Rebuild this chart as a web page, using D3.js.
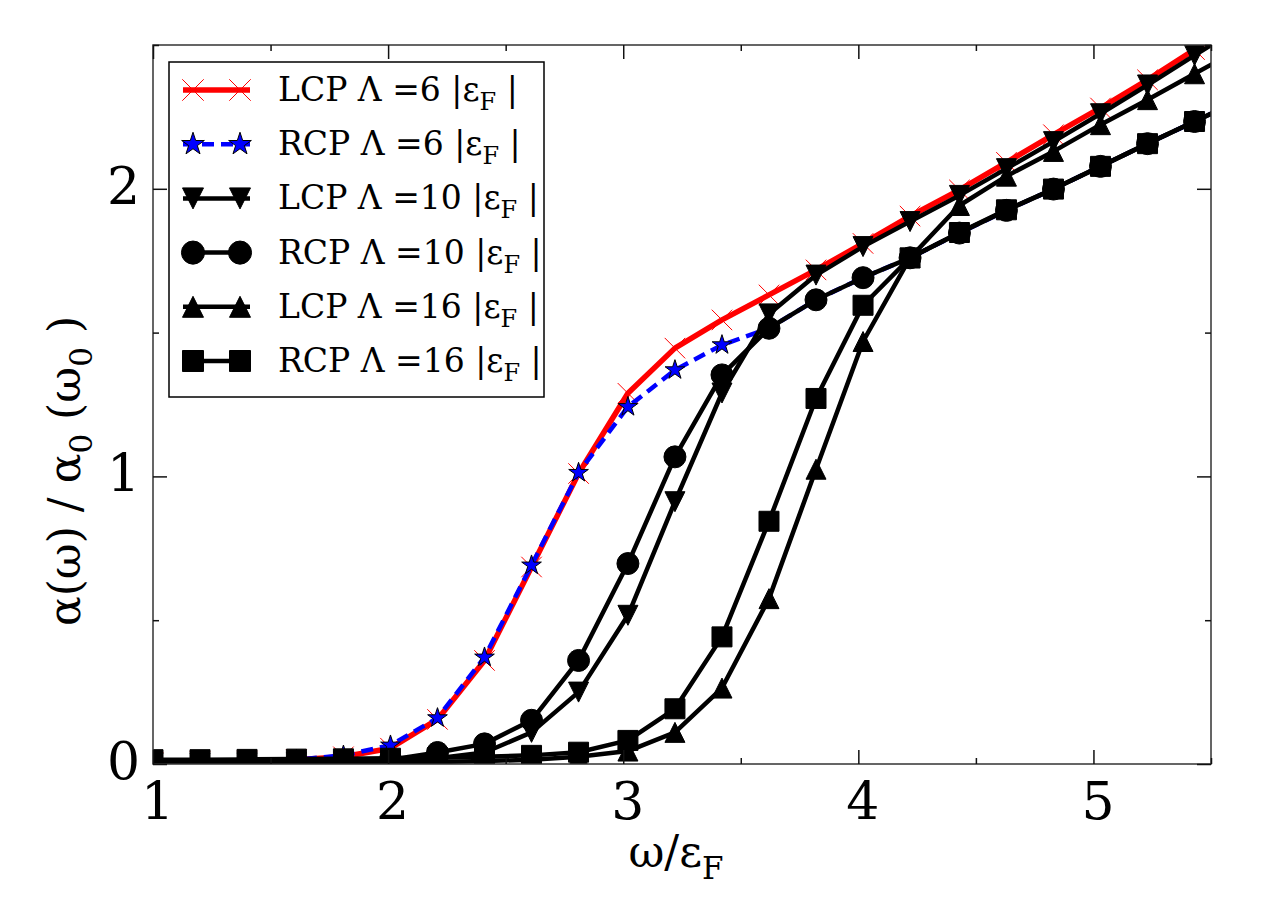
<!DOCTYPE html>
<html>
<head>
<meta charset="utf-8">
<script src="https://cdn.jsdelivr.net/npm/d3@7"></script>
<style>
  body { margin: 0; background: #fff; }
  text { font-family: "DejaVu Serif", serif; fill: #000; }
</style>
</head>
<body>
<svg id="chart" width="1275" height="900"></svg>
<script>
// frequency points (omega / eps_F)
const omega = [1.00, 1.20, 1.40, 1.61, 1.81, 2.01, 2.21, 2.41, 2.61, 2.81, 3.02, 3.22,
  3.42, 3.62, 3.82, 4.02, 4.22, 4.43, 4.63, 4.83, 5.03, 5.23, 5.43, 5.63];

const lcp6 = [0.005, 0.007, 0.010, 0.015, 0.025, 0.055, 0.155, 0.360, 0.685, 1.010, 1.289, 1.446,
  1.544, 1.631, 1.718, 1.810, 1.905, 1.996, 2.092, 2.188, 2.281, 2.379, 2.484, 2.590];
const rcp6 = [0.005, 0.007, 0.010, 0.015, 0.030, 0.065, 0.160, 0.371, 0.691, 1.013, 1.242, 1.370,
  1.457, 1.515, 1.614, 1.691, 1.760, 1.846, 1.925, 1.999, 2.078, 2.157, 2.234, 2.310];
const lcp10 = [0.003, 0.003, 0.004, 0.005, 0.007, 0.010, 0.020, 0.040, 0.110, 0.250, 0.517, 0.912,
  1.290, 1.565, 1.700, 1.799, 1.886, 1.977, 2.070, 2.164, 2.261, 2.361, 2.464, 2.565];
const rcp10 = [0.004, 0.004, 0.005, 0.006, 0.008, 0.015, 0.040, 0.070, 0.152, 0.360, 0.697, 1.068,
  1.353, 1.515, 1.614, 1.691, 1.760, 1.846, 1.925, 1.999, 2.078, 2.157, 2.234, 2.310];
const lcp16 = [0.002, 0.002, 0.002, 0.003, 0.004, 0.005, 0.007, 0.010, 0.015, 0.025, 0.045, 0.110,
  0.264, 0.575, 1.025, 1.469, 1.760, 1.942, 2.044, 2.130, 2.223, 2.310, 2.400, 2.490];
const rcp16 = [0.015, 0.015, 0.016, 0.017, 0.018, 0.020, 0.022, 0.025, 0.030, 0.041, 0.082, 0.192,
  0.442, 0.844, 1.271, 1.595, 1.760, 1.848, 1.927, 1.999, 2.078, 2.157, 2.234, 2.310];

const polarisation = ['LCP', 'RCP', 'LCP', 'RCP', 'LCP', 'RCP'];
const cutoff = ['6', '6', '10', '10', '16', '16'];

const xTicks = [1, 2, 3, 4, 5];
const xMinor = [1.5, 2.5, 3.5, 4.5, 5.5];
const yTicks = [0, 1, 2];
const yMinor = [0.5, 1.5, 2.5];

// matplotlib-ish markers
const triUp = {
  draw(ctx, size) {
    const r = Math.sqrt(size) / 2;
    ctx.moveTo(0, -r); ctx.lineTo(r, r); ctx.lineTo(-r, r); ctx.closePath();
  }
};
const triDown = {
  draw(ctx, size) {
    const r = Math.sqrt(size) / 2;
    ctx.moveTo(0, r); ctx.lineTo(r, -r); ctx.lineTo(-r, -r); ctx.closePath();
  }
};
const cross = {
  draw(ctx, size) {
    const r = Math.sqrt(size) / 2;
    ctx.moveTo(-r, -r); ctx.lineTo(r, r); ctx.moveTo(-r, r); ctx.lineTo(r, -r);
  }
};

const styles = [
  { color: '#ff0000', width: 5.5, dash: null, type: cross, size: 420, fill: 'none', edge: '#ff0000', edgeW: 1 },
  { color: '#0000ff', width: 4.5, dash: '12,7', type: d3.symbolStar, size: 120, fill: '#0000ff', edge: '#000', edgeW: 1 },
  { color: '#000', width: 4.5, dash: null, type: triDown, size: 400, fill: '#000', edge: '#000', edgeW: 1 },
  { color: '#000', width: 4.5, dash: null, type: d3.symbolCircle, size: 380, fill: '#000', edge: '#000', edgeW: 1 },
  { color: '#000', width: 4.5, dash: null, type: triUp, size: 400, fill: '#000', edge: '#000', edgeW: 1 },
  { color: '#000', width: 4.5, dash: null, type: d3.symbolSquare, size: 400, fill: '#000', edge: '#000', edgeW: 1 }
];
const allValues = [lcp6, rcp6, lcp10, rcp10, lcp16, rcp16];

const pLeft = 153, pRight = 1211, pTop = 45, pBottom = 764;
const svg = d3.select('#chart');

const x = d3.scaleLinear().domain([1, 5.5]).range([pLeft, pRight]);
const y = d3.scaleLinear().domain([0, 2.5]).range([pBottom, pTop]);

svg.append('defs').append('clipPath').attr('id', 'plotClip')
  .append('rect')
  .attr('x', pLeft).attr('y', pTop)
  .attr('width', pRight - pLeft).attr('height', pBottom - pTop);

const plot = svg.append('g').attr('clip-path', 'url(#plotClip)');

const line = d3.line()
  .x(d => x(d[0]))
  .y(d => y(d[1]));

allValues.forEach((vals, i) => {
  const st = styles[i];
  const pts = omega.map((w, k) => [w, vals[k]]);
  const g = plot.append('g').attr('class', 'series');
  g.append('path')
    .datum(pts)
    .attr('d', line)
    .attr('fill', 'none')
    .attr('stroke', st.color)
    .attr('stroke-width', st.width)
    .attr('stroke-dasharray', st.dash)
    .attr('stroke-linejoin', 'round');
  g.selectAll('path.mk')
    .data(pts)
    .enter()
    .append('path')
    .attr('class', 'mk')
    .attr('transform', d => `translate(${x(d[0])},${y(d[1])})`)
    .attr('d', d3.symbol().type(st.type).size(st.size))
    .attr('fill', st.fill)
    .attr('stroke', st.edge)
    .attr('stroke-width', st.edgeW);
});

// frame
svg.append('rect')
  .attr('x', pLeft).attr('y', pTop)
  .attr('width', pRight - pLeft).attr('height', pBottom - pTop)
  .attr('fill', 'none')
  .attr('stroke', '#333')
  .attr('stroke-width', 1.5);

function styleAxis(g) {
  g.select('.domain').remove();
  g.selectAll('line').attr('stroke', '#111').attr('stroke-width', 1.5);
  g.selectAll('text').style('font-family', '"DejaVu Serif", serif').style('font-size', '52px').attr('fill', '#000');
}

// bottom
svg.append('g').attr('transform', `translate(0,${pBottom})`)
  .call(d3.axisBottom(x).tickValues(xTicks).tickSize(-14).tickPadding(18).tickFormat(d3.format('d')))
  .call(styleAxis)
  .selectAll('text').attr('dx', 4);
svg.append('g').attr('transform', `translate(0,${pBottom})`)
  .call(d3.axisBottom(x).tickValues(xMinor).tickSize(-6).tickFormat(''))
  .call(styleAxis);
// top
svg.append('g').attr('transform', `translate(0,${pTop})`)
  .call(d3.axisTop(x).tickValues(xTicks).tickSize(-14).tickFormat(''))
  .call(styleAxis);
svg.append('g').attr('transform', `translate(0,${pTop})`)
  .call(d3.axisTop(x).tickValues(xMinor).tickSize(-6).tickFormat(''))
  .call(styleAxis);
// left
svg.append('g').attr('transform', `translate(${pLeft},0)`)
  .call(d3.axisLeft(y).tickValues(yTicks).tickSize(-14).tickPadding(13).tickFormat(d3.format('d')))
  .call(styleAxis)
  .selectAll('text').attr('dy', '0.28em');
svg.append('g').attr('transform', `translate(${pLeft},0)`)
  .call(d3.axisLeft(y).tickValues(yMinor).tickSize(-6).tickFormat(''))
  .call(styleAxis);
// right
svg.append('g').attr('transform', `translate(${pRight},0)`)
  .call(d3.axisRight(y).tickValues(yTicks).tickSize(-14).tickFormat(''))
  .call(styleAxis);
svg.append('g').attr('transform', `translate(${pRight},0)`)
  .call(d3.axisRight(y).tickValues(yMinor).tickSize(-6).tickFormat(''))
  .call(styleAxis);

// axis labels
const xl = svg.append('text')
  .attr('x', 676).attr('y', 867)
  .attr('text-anchor', 'middle')
  .style('font-size', '44px');
xl.append('tspan').text('ω/ε');
xl.append('tspan').attr('dy', 12).style('font-size', '31px').text('F');

const yl = svg.append('text')
  .attr('transform', 'translate(80,471) rotate(-90)')
  .attr('text-anchor', 'middle')
  .style('font-size', '44px');
yl.append('tspan').text('α(ω) / α');
yl.append('tspan').attr('dy', 12).style('font-size', '31px').text('0');
yl.append('tspan').attr('dy', -12).text(' (ω');
yl.append('tspan').attr('dy', 12).style('font-size', '31px').text('0');
yl.append('tspan').attr('dy', -12).text(' )');

// legend
const legend = svg.append('g');
legend.append('rect')
  .attr('x', 169).attr('y', 62)
  .attr('width', 375).attr('height', 335)
  .attr('fill', '#fff')
  .attr('stroke', '#000')
  .attr('stroke-width', 1.5);

const rowY = d3.scaleLinear().domain([0, 5]).range([90, 361]);
polarisation.forEach((p, i) => {
  const st = styles[i];
  const cy = rowY(i);
  const row = legend.append('g');
  row.append('line')
    .attr('x1', 183).attr('x2', 250)
    .attr('y1', cy).attr('y2', cy)
    .attr('stroke', st.color)
    .attr('stroke-width', st.width)
    .attr('stroke-dasharray', st.dash);
  [193, 240].forEach(mx => {
    row.append('path')
      .attr('transform', `translate(${mx},${cy})`)
      .attr('d', d3.symbol().type(st.type).size(st.type === d3.symbolStar ? 160 : st.size + 40))
      .attr('fill', st.fill)
      .attr('stroke', st.edge)
      .attr('stroke-width', st.edgeW);
  });
  const t = row.append('text')
    .attr('x', 278).attr('y', cy + 11)
    .style('font-size', '33px');
  t.append('tspan').text(`${p} Λ =${cutoff[i]} |ε`);
  t.append('tspan').attr('dy', 9).style('font-size', '24px').text('F');
  t.append('tspan').attr('dy', -9).text(' |');
});
</script>
</body>
</html>
